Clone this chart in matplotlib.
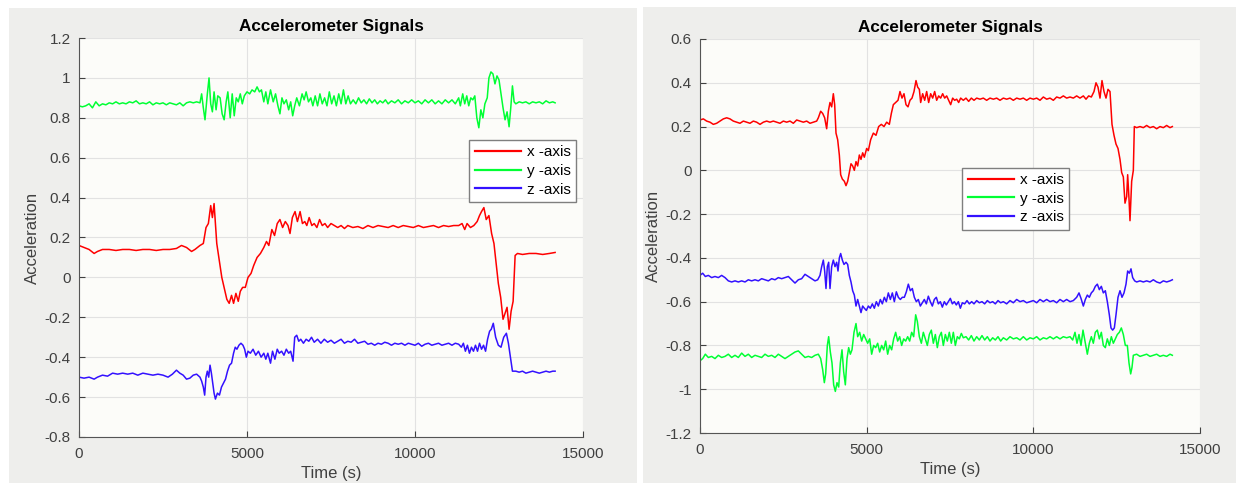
import matplotlib
matplotlib.use("Agg")
import matplotlib.pyplot as plt
from matplotlib.patches import Rectangle

plt.rcParams["font.family"] = ["Liberation Sans", "DejaVu Sans"]

# ------------------------------------------------------------
#  data: (time s, acceleration)
# ------------------------------------------------------------
left_x = [(0, 0.16), (150, 0.15), (300, 0.14), (450, 0.12), (550, 0.13), (700, 0.14), (900, 0.14),
          (1100, 0.135), (1300, 0.14), (1500, 0.14), (1700, 0.135), (1900, 0.14), (2100, 0.14),
          (2300, 0.135), (2500, 0.14), (2700, 0.14), (2900, 0.145), (3050, 0.16), (3200, 0.15),
          (3350, 0.13), (3450, 0.14), (3600, 0.16), (3700, 0.17), (3780, 0.25), (3850, 0.27),
          (3920, 0.36), (3970, 0.30), (4020, 0.37), (4100, 0.17), (4180, 0.08), (4250, 0.0),
          (4330, -0.06), (4400, -0.11), (4470, -0.13), (4540, -0.09), (4600, -0.13), (4670, -0.08),
          (4740, -0.12), (4800, -0.07), (4870, -0.05), (4950, -0.05), (5030, 0.0), (5120, 0.02),
          (5200, 0.06), (5300, 0.10), (5400, 0.12), (5500, 0.15), (5580, 0.18), (5650, 0.16),
          (5740, 0.24), (5820, 0.21), (5900, 0.27), (5980, 0.29), (6060, 0.25), (6140, 0.28),
          (6220, 0.26), (6280, 0.22), (6350, 0.30), (6430, 0.33), (6500, 0.28), (6580, 0.33),
          (6650, 0.27), (6720, 0.28), (6780, 0.26), (6850, 0.30), (6930, 0.26), (7000, 0.27),
          (7080, 0.25), (7160, 0.29), (7240, 0.26), (7320, 0.27), (7400, 0.25), (7500, 0.27),
          (7600, 0.26), (7700, 0.25), (7800, 0.26), (7900, 0.245), (8000, 0.26), (8150, 0.25),
          (8300, 0.255), (8450, 0.245), (8600, 0.26), (8750, 0.25), (8900, 0.26), (9050, 0.255),
          (9200, 0.25), (9350, 0.26), (9500, 0.25), (9650, 0.26), (9800, 0.255), (9950, 0.25),
          (10100, 0.26), (10250, 0.25), (10400, 0.255), (10550, 0.26), (10700, 0.25), (10850, 0.26),
          (11000, 0.255), (11150, 0.26), (11300, 0.26), (11400, 0.27), (11480, 0.24), (11550, 0.27),
          (11650, 0.25), (11750, 0.26), (11850, 0.28), (11920, 0.31), (11980, 0.33), (12050, 0.35),
          (12120, 0.29), (12200, 0.31), (12280, 0.22), (12350, 0.17), (12420, 0.06), (12480, -0.03),
          (12550, -0.10), (12620, -0.21), (12680, -0.18), (12740, -0.15), (12800, -0.26),
          (12860, -0.17), (12920, -0.12), (12980, 0.11), (13050, 0.12), (13200, 0.115),
          (13400, 0.12), (13600, 0.12), (13800, 0.115), (14000, 0.12), (14170, 0.125)]

left_y = [(0, 0.86), (100, 0.855), (200, 0.86), (300, 0.87), (400, 0.85), (500, 0.88), (600, 0.86),
          (700, 0.87), (800, 0.865), (900, 0.875), (1000, 0.87), (1100, 0.88), (1200, 0.87),
          (1300, 0.875), (1400, 0.87), (1500, 0.88), (1600, 0.875), (1700, 0.885), (1800, 0.87),
          (1900, 0.875), (2000, 0.87), (2100, 0.88), (2200, 0.865), (2300, 0.875), (2400, 0.87),
          (2500, 0.875), (2600, 0.865), (2700, 0.875), (2800, 0.87), (2900, 0.865), (3000, 0.875),
          (3100, 0.86), (3200, 0.875), (3300, 0.88), (3400, 0.875), (3500, 0.88), (3600, 0.875),
          (3650, 0.92), (3700, 0.85), (3750, 0.79), (3820, 0.92), (3870, 1.0), (3920, 0.87),
          (3970, 0.83), (4020, 0.93), (4080, 0.84), (4130, 0.91), (4200, 0.90), (4260, 0.82),
          (4320, 0.79), (4380, 0.88), (4430, 0.93), (4500, 0.80), (4560, 0.92), (4620, 0.81),
          (4680, 0.90), (4740, 0.88), (4800, 0.92), (4860, 0.87), (4920, 0.91), (5000, 0.93),
          (5080, 0.92), (5150, 0.94), (5230, 0.93), (5300, 0.955), (5370, 0.93), (5430, 0.94),
          (5500, 0.88), (5560, 0.93), (5620, 0.87), (5700, 0.94), (5780, 0.88), (5850, 0.92),
          (5920, 0.86), (5980, 0.82), (6040, 0.90), (6100, 0.87), (6170, 0.89), (6240, 0.84),
          (6300, 0.88), (6360, 0.81), (6420, 0.86), (6480, 0.90), (6560, 0.86), (6640, 0.92),
          (6700, 0.89), (6760, 0.93), (6830, 0.88), (6900, 0.90), (6960, 0.86), (7030, 0.91),
          (7100, 0.86), (7170, 0.92), (7240, 0.87), (7310, 0.90), (7380, 0.86), (7450, 0.93),
          (7520, 0.87), (7590, 0.91), (7660, 0.86), (7730, 0.92), (7800, 0.87), (7870, 0.94),
          (7940, 0.87), (8010, 0.91), (8080, 0.87), (8160, 0.89), (8240, 0.87), (8320, 0.90),
          (8400, 0.875), (8480, 0.89), (8560, 0.87), (8640, 0.895), (8720, 0.875), (8800, 0.89),
          (8880, 0.87), (8960, 0.885), (9040, 0.875), (9120, 0.89), (9200, 0.87), (9300, 0.885),
          (9400, 0.875), (9500, 0.89), (9600, 0.87), (9700, 0.885), (9800, 0.875), (9900, 0.89),
          (10000, 0.875), (10100, 0.885), (10200, 0.87), (10300, 0.89), (10400, 0.875),
          (10500, 0.89), (10600, 0.87), (10700, 0.885), (10800, 0.87), (10900, 0.89),
          (11000, 0.875), (11100, 0.89), (11200, 0.87), (11300, 0.90), (11350, 0.86),
          (11420, 0.92), (11480, 0.87), (11540, 0.91), (11600, 0.86), (11660, 0.90),
          (11720, 0.89), (11780, 0.91), (11840, 0.80), (11900, 0.75), (11960, 0.84),
          (12020, 0.80), (12080, 0.87), (12150, 0.90), (12200, 1.00), (12260, 1.03),
          (12320, 1.02), (12380, 0.97), (12440, 1.01), (12500, 0.99), (12560, 0.92),
          (12620, 0.85), (12680, 0.79), (12740, 0.83), (12800, 0.755), (12850, 0.85),
          (12900, 0.96), (12950, 0.88), (13000, 0.87), (13100, 0.88), (13200, 0.875),
          (13300, 0.88), (13400, 0.87), (13500, 0.88), (13600, 0.875), (13700, 0.88),
          (13800, 0.87), (13900, 0.885), (14000, 0.875), (14100, 0.88), (14170, 0.875)]

left_z = [(0, -0.50), (150, -0.505), (300, -0.50), (450, -0.51), (550, -0.50), (700, -0.49),
          (850, -0.495), (1000, -0.48), (1150, -0.485), (1300, -0.48), (1450, -0.485), (1600, -0.48),
          (1750, -0.49), (1900, -0.48), (2050, -0.485), (2200, -0.49), (2350, -0.485), (2500, -0.49),
          (2650, -0.50), (2780, -0.485), (2900, -0.465), (3000, -0.48), (3100, -0.49), (3200, -0.51),
          (3300, -0.505), (3400, -0.49), (3500, -0.485), (3600, -0.50), (3650, -0.52), (3700, -0.55),
          (3740, -0.59), (3780, -0.50), (3820, -0.47), (3860, -0.50), (3900, -0.44), (3940, -0.48),
          (3980, -0.53), (4020, -0.58), (4060, -0.61), (4120, -0.58), (4180, -0.59), (4240, -0.55),
          (4300, -0.53), (4360, -0.51), (4420, -0.47), (4480, -0.44), (4540, -0.43), (4600, -0.38),
          (4650, -0.35), (4700, -0.36), (4760, -0.34), (4820, -0.33), (4880, -0.34), (4930, -0.36),
          (4980, -0.40), (5030, -0.37), (5100, -0.38), (5180, -0.36), (5260, -0.39), (5340, -0.37),
          (5420, -0.40), (5500, -0.38), (5560, -0.41), (5620, -0.38), (5700, -0.43), (5760, -0.37),
          (5830, -0.41), (5900, -0.36), (5960, -0.38), (6030, -0.37), (6100, -0.39), (6170, -0.36),
          (6240, -0.38), (6300, -0.37), (6370, -0.42), (6420, -0.30), (6480, -0.29), (6540, -0.32),
          (6600, -0.31), (6680, -0.33), (6760, -0.31), (6840, -0.32), (6920, -0.30), (7000, -0.325),
          (7100, -0.31), (7200, -0.33), (7300, -0.31), (7400, -0.325), (7500, -0.315), (7600, -0.33),
          (7700, -0.32), (7800, -0.31), (7900, -0.33), (8000, -0.32), (8100, -0.325), (8200, -0.31),
          (8300, -0.33), (8400, -0.325), (8500, -0.32), (8600, -0.335), (8700, -0.33), (8800, -0.34),
          (8900, -0.33), (9000, -0.335), (9100, -0.325), (9200, -0.33), (9300, -0.34), (9400, -0.33),
          (9500, -0.335), (9600, -0.33), (9700, -0.34), (9800, -0.33), (9900, -0.335), (10000, -0.34),
          (10100, -0.33), (10200, -0.345), (10300, -0.335), (10400, -0.33), (10500, -0.34),
          (10600, -0.335), (10700, -0.33), (10800, -0.34), (10900, -0.335), (11000, -0.33),
          (11100, -0.34), (11200, -0.33), (11300, -0.335), (11380, -0.35), (11440, -0.33),
          (11500, -0.37), (11560, -0.34), (11620, -0.38), (11680, -0.35), (11740, -0.37),
          (11800, -0.34), (11860, -0.37), (11920, -0.33), (11980, -0.36), (12040, -0.34),
          (12100, -0.37), (12160, -0.31), (12220, -0.27), (12270, -0.26), (12330, -0.23),
          (12400, -0.30), (12480, -0.34), (12560, -0.35), (12640, -0.30), (12720, -0.28),
          (12780, -0.33), (12840, -0.40), (12900, -0.47), (13000, -0.47), (13100, -0.475),
          (13200, -0.47), (13300, -0.48), (13400, -0.475), (13500, -0.47), (13600, -0.475),
          (13700, -0.48), (13800, -0.475), (13900, -0.47), (14000, -0.475), (14100, -0.47),
          (14170, -0.47)]

right_x = [(0, 0.23), (100, 0.235), (200, 0.225), (300, 0.22), (400, 0.21), (500, 0.215), (600, 0.225),
           (700, 0.235), (800, 0.24), (900, 0.235), (1000, 0.225), (1100, 0.22), (1200, 0.215),
           (1300, 0.225), (1400, 0.22), (1500, 0.215), (1600, 0.225), (1700, 0.22), (1800, 0.21),
           (1900, 0.22), (2000, 0.225), (2100, 0.22), (2200, 0.225), (2300, 0.22), (2400, 0.215),
           (2500, 0.225), (2600, 0.22), (2700, 0.225), (2800, 0.215), (2900, 0.23), (3000, 0.225),
           (3100, 0.22), (3200, 0.225), (3300, 0.215), (3400, 0.22), (3500, 0.225), (3550, 0.24),
           (3620, 0.27), (3680, 0.26), (3740, 0.24), (3800, 0.19), (3850, 0.27), (3900, 0.31),
           (3950, 0.29), (4000, 0.35), (4040, 0.30), (4080, 0.17), (4130, 0.14), (4180, 0.07),
           (4220, -0.02), (4270, -0.04), (4330, -0.05), (4380, -0.07), (4430, -0.05), (4480, -0.01),
           (4530, 0.03), (4580, 0.02), (4630, 0.0), (4680, 0.04), (4730, 0.02), (4780, 0.07),
           (4830, 0.05), (4880, 0.08), (4930, 0.06), (5000, 0.10), (5050, 0.09), (5120, 0.14),
           (5200, 0.17), (5280, 0.16), (5360, 0.20), (5440, 0.21), (5520, 0.20), (5600, 0.22),
           (5680, 0.21), (5740, 0.26), (5800, 0.30), (5870, 0.31), (5940, 0.32), (6000, 0.36),
           (6060, 0.33), (6120, 0.35), (6180, 0.30), (6240, 0.29), (6300, 0.32), (6360, 0.33),
           (6420, 0.36), (6480, 0.41), (6530, 0.38), (6580, 0.37), (6620, 0.31), (6680, 0.35),
           (6740, 0.32), (6800, 0.36), (6860, 0.31), (6920, 0.35), (6980, 0.33), (7040, 0.36),
           (7100, 0.32), (7160, 0.34), (7220, 0.33), (7280, 0.35), (7340, 0.33), (7400, 0.34),
           (7460, 0.32), (7520, 0.30), (7580, 0.33), (7640, 0.32), (7700, 0.325), (7760, 0.31),
           (7820, 0.33), (7900, 0.32), (7980, 0.33), (8060, 0.315), (8140, 0.33), (8220, 0.32),
           (8300, 0.33), (8400, 0.325), (8500, 0.33), (8600, 0.32), (8700, 0.33), (8800, 0.325),
           (8900, 0.33), (9000, 0.32), (9100, 0.33), (9200, 0.325), (9300, 0.33), (9400, 0.32),
           (9500, 0.33), (9600, 0.325), (9700, 0.33), (9800, 0.32), (9900, 0.33), (10000, 0.325),
           (10100, 0.33), (10200, 0.32), (10300, 0.335), (10400, 0.325), (10500, 0.33),
           (10600, 0.32), (10700, 0.335), (10800, 0.33), (10900, 0.34), (11000, 0.33),
           (11100, 0.335), (11200, 0.33), (11300, 0.34), (11400, 0.33), (11500, 0.34),
           (11580, 0.325), (11660, 0.34), (11740, 0.335), (11820, 0.36), (11880, 0.40),
           (11940, 0.38), (12000, 0.33), (12060, 0.41), (12120, 0.36), (12180, 0.33),
           (12240, 0.37), (12300, 0.36), (12360, 0.21), (12420, 0.16), (12480, 0.12),
           (12540, 0.10), (12600, 0.05), (12650, -0.01), (12700, -0.03), (12750, -0.15),
           (12800, -0.12), (12830, -0.02), (12870, -0.13), (12900, -0.23), (12950, -0.05),
           (13000, 0.0), (13030, 0.20), (13100, 0.195), (13200, 0.20), (13300, 0.195),
           (13400, 0.205), (13500, 0.195), (13600, 0.20), (13700, 0.19), (13800, 0.20),
           (13900, 0.195), (14000, 0.205), (14100, 0.195), (14170, 0.20)]

right_y = [(0, -0.87), (80, -0.86), (160, -0.84), (250, -0.855), (350, -0.85), (450, -0.86),
           (550, -0.845), (650, -0.855), (750, -0.85), (850, -0.84), (950, -0.855), (1050, -0.845),
           (1150, -0.855), (1250, -0.835), (1350, -0.85), (1450, -0.84), (1550, -0.855),
           (1650, -0.845), (1750, -0.85), (1850, -0.855), (1950, -0.84), (2050, -0.85),
           (2150, -0.845), (2250, -0.855), (2350, -0.84), (2450, -0.85), (2550, -0.86),
           (2650, -0.85), (2750, -0.84), (2850, -0.83), (2950, -0.825), (3050, -0.84),
           (3150, -0.855), (3250, -0.85), (3350, -0.855), (3450, -0.845), (3550, -0.84),
           (3620, -0.86), (3680, -0.91), (3730, -0.97), (3770, -0.93), (3820, -0.80),
           (3860, -0.76), (3910, -0.83), (3960, -0.88), (4010, -0.98), (4060, -1.01),
           (4110, -0.97), (4160, -0.99), (4210, -0.88), (4260, -0.82), (4310, -0.92),
           (4360, -0.98), (4410, -0.86), (4460, -0.81), (4510, -0.84), (4560, -0.82),
           (4620, -0.74), (4680, -0.70), (4730, -0.76), (4790, -0.74), (4850, -0.78),
           (4910, -0.75), (4970, -0.77), (5030, -0.79), (5090, -0.77), (5150, -0.84),
           (5210, -0.80), (5270, -0.81), (5330, -0.79), (5390, -0.83), (5450, -0.80),
           (5510, -0.82), (5570, -0.78), (5630, -0.84), (5690, -0.80), (5750, -0.82),
           (5810, -0.77), (5870, -0.74), (5930, -0.78), (5990, -0.76), (6050, -0.80),
           (6110, -0.77), (6170, -0.78), (6230, -0.76), (6290, -0.78), (6350, -0.74),
           (6410, -0.76), (6470, -0.66), (6520, -0.69), (6580, -0.76), (6640, -0.79),
           (6700, -0.74), (6760, -0.77), (6820, -0.80), (6880, -0.75), (6940, -0.73),
           (7000, -0.79), (7060, -0.75), (7120, -0.81), (7180, -0.76), (7240, -0.74),
           (7300, -0.80), (7360, -0.75), (7420, -0.78), (7480, -0.74), (7540, -0.79),
           (7600, -0.74), (7660, -0.80), (7720, -0.76), (7780, -0.77), (7840, -0.745),
           (7900, -0.765), (7980, -0.76), (8060, -0.775), (8140, -0.755), (8220, -0.78),
           (8300, -0.76), (8380, -0.775), (8460, -0.755), (8540, -0.775), (8620, -0.76),
           (8700, -0.78), (8780, -0.765), (8860, -0.775), (8940, -0.76), (9020, -0.78),
           (9100, -0.765), (9200, -0.775), (9300, -0.76), (9400, -0.77), (9500, -0.765),
           (9600, -0.775), (9700, -0.76), (9800, -0.775), (9900, -0.765), (10000, -0.77),
           (10100, -0.76), (10200, -0.775), (10300, -0.765), (10400, -0.77), (10500, -0.76),
           (10600, -0.77), (10700, -0.76), (10800, -0.77), (10900, -0.76), (11000, -0.765),
           (11100, -0.76), (11180, -0.775), (11250, -0.74), (11310, -0.79), (11370, -0.75),
           (11430, -0.80), (11490, -0.73), (11550, -0.78), (11620, -0.84), (11680, -0.79),
           (11740, -0.76), (11800, -0.79), (11860, -0.74), (11920, -0.73), (11980, -0.77),
           (12040, -0.74), (12100, -0.80), (12160, -0.81), (12220, -0.77), (12280, -0.80),
           (12340, -0.76), (12400, -0.79), (12460, -0.77), (12520, -0.75), (12580, -0.74),
           (12640, -0.72), (12700, -0.75), (12760, -0.80), (12820, -0.80), (12870, -0.88),
           (12920, -0.93), (12960, -0.90), (13000, -0.845), (13100, -0.84), (13200, -0.85),
           (13300, -0.845), (13400, -0.84), (13500, -0.85), (13600, -0.845), (13700, -0.84),
           (13800, -0.85), (13900, -0.845), (14000, -0.85), (14100, -0.84), (14170, -0.845)]

right_z = [(0, -0.48), (80, -0.47), (160, -0.485), (250, -0.48), (350, -0.49), (450, -0.485),
           (550, -0.49), (650, -0.48), (750, -0.49), (850, -0.505), (950, -0.51), (1050, -0.505),
           (1150, -0.51), (1250, -0.505), (1350, -0.51), (1450, -0.50), (1550, -0.505),
           (1650, -0.50), (1750, -0.505), (1850, -0.495), (1950, -0.50), (2050, -0.505),
           (2150, -0.495), (2250, -0.50), (2350, -0.49), (2450, -0.495), (2550, -0.49),
           (2650, -0.485), (2750, -0.50), (2850, -0.515), (2950, -0.50), (3050, -0.495),
           (3150, -0.475), (3250, -0.485), (3350, -0.495), (3450, -0.505), (3530, -0.50),
           (3600, -0.48), (3650, -0.44), (3700, -0.41), (3740, -0.46), (3780, -0.54),
           (3820, -0.44), (3860, -0.42), (3900, -0.54), (3950, -0.44), (4000, -0.41),
           (4050, -0.44), (4100, -0.42), (4140, -0.46), (4180, -0.40), (4220, -0.38),
           (4270, -0.41), (4320, -0.43), (4380, -0.42), (4430, -0.43), (4480, -0.48),
           (4530, -0.51), (4580, -0.55), (4630, -0.57), (4680, -0.62), (4730, -0.59),
           (4780, -0.62), (4830, -0.65), (4880, -0.62), (4930, -0.63), (4990, -0.64),
           (5050, -0.62), (5110, -0.63), (5170, -0.61), (5230, -0.63), (5290, -0.60),
           (5350, -0.62), (5410, -0.59), (5470, -0.61), (5530, -0.58), (5590, -0.60),
           (5650, -0.56), (5710, -0.59), (5770, -0.56), (5830, -0.60), (5890, -0.555),
           (5950, -0.58), (6010, -0.59), (6070, -0.58), (6130, -0.58), (6190, -0.555),
           (6250, -0.52), (6310, -0.55), (6370, -0.54), (6430, -0.58), (6490, -0.60),
           (6550, -0.59), (6610, -0.62), (6670, -0.605), (6730, -0.59), (6790, -0.61),
           (6850, -0.575), (6910, -0.60), (6970, -0.62), (7030, -0.59), (7090, -0.58),
           (7150, -0.61), (7210, -0.60), (7270, -0.625), (7330, -0.60), (7390, -0.615),
           (7450, -0.60), (7510, -0.585), (7570, -0.61), (7630, -0.60), (7690, -0.615),
           (7750, -0.60), (7810, -0.63), (7870, -0.605), (7940, -0.61), (8010, -0.595),
           (8080, -0.61), (8150, -0.60), (8220, -0.61), (8300, -0.595), (8380, -0.605),
           (8460, -0.60), (8540, -0.61), (8620, -0.595), (8700, -0.605), (8780, -0.60),
           (8860, -0.61), (8940, -0.595), (9020, -0.605), (9100, -0.60), (9200, -0.61),
           (9300, -0.595), (9400, -0.605), (9500, -0.59), (9600, -0.60), (9700, -0.595),
           (9800, -0.605), (9900, -0.60), (10000, -0.595), (10100, -0.605), (10200, -0.59),
           (10300, -0.60), (10400, -0.59), (10500, -0.60), (10600, -0.595), (10700, -0.605),
           (10800, -0.59), (10900, -0.60), (11000, -0.59), (11100, -0.60), (11200, -0.595),
           (11300, -0.58), (11370, -0.56), (11430, -0.585), (11500, -0.62), (11560, -0.59),
           (11620, -0.57), (11680, -0.58), (11740, -0.56), (11800, -0.55), (11860, -0.53),
           (11920, -0.52), (11980, -0.545), (12040, -0.53), (12100, -0.56), (12160, -0.55),
           (12220, -0.60), (12280, -0.66), (12330, -0.72), (12380, -0.73), (12430, -0.72),
           (12480, -0.66), (12540, -0.58), (12600, -0.55), (12660, -0.58), (12720, -0.56),
           (12780, -0.52), (12830, -0.46), (12880, -0.47), (12930, -0.45), (12980, -0.49),
           (13040, -0.505), (13100, -0.51), (13200, -0.505), (13300, -0.51), (13400, -0.505),
           (13500, -0.51), (13600, -0.50), (13700, -0.51), (13800, -0.515), (13900, -0.505),
           (14000, -0.51), (14100, -0.505), (14170, -0.50)]

series_names = ["x -axis", "y -axis", "z -axis"]
series_colors = ["#FF0000", "#00FF33", "#3311FF"]
x_ticks = [0, 5000, 10000, 15000]
left_yticks = [-0.8, -0.6, -0.4, -0.2, 0, 0.2, 0.4, 0.6, 0.8, 1, 1.2]
right_yticks = [-1.2, -1, -0.8, -0.6, -0.4, -0.2, 0, 0.2, 0.4, 0.6]

PANEL = "#EEEEEC"
FACE = "#FCFCF9"
TXT = "#404040"


def fmt(v):
    s = f"{v:g}"
    return "0" if s == "-0" else s


def draw_panel(ax, data, yticks, legend_anchor):
    for (pts, name, col) in zip(data, series_names, series_colors):
        t = [p[0] for p in pts]
        v = [p[1] for p in pts]
        ax.plot(t, v, color=col, linewidth=1.1, label=name)

    ax.set_facecolor(FACE)
    ax.set_xlim(0, 15000)
    ax.set_ylim(yticks[0], yticks[-1])
    ax.set_xticks(x_ticks)
    ax.set_xticklabels([fmt(t) for t in x_ticks])
    ax.set_yticks(yticks)
    ax.set_yticklabels([fmt(t) for t in yticks])
    ax.tick_params(direction="in", length=4, width=0.8, colors=TXT, labelsize=11, pad=6)
    ax.tick_params(axis="x", pad=7)
    ax.grid(True, color="#E2E2E2", linewidth=0.8)
    ax.set_axisbelow(True)
    ax.spines["top"].set_visible(False)
    ax.spines["right"].set_visible(False)
    for s in ["left", "bottom"]:
        ax.spines[s].set_color("#555555")
        ax.spines[s].set_linewidth(0.8)

    ax.set_title("Accelerometer Signals", fontsize=12.3, fontweight="bold", pad=5)
    ax.set_xlabel("Time (s)", fontsize=12, color=TXT, labelpad=4)
    ax.set_ylabel("Acceleration", fontsize=12, color=TXT, labelpad=3)

    leg = ax.legend(loc="upper right", bbox_to_anchor=legend_anchor, fontsize=11,
                    handlelength=3.0, handletextpad=0.4, borderpad=0.35, borderaxespad=0,
                    labelspacing=0.3, fancybox=False, framealpha=1)
    leg.get_frame().set_edgecolor("#7F7F7F")
    leg.get_frame().set_linewidth(1.0)
    for line in leg.get_lines():
        line.set_linewidth(1.6)


fig = plt.figure(figsize=(12.36, 4.83), dpi=100)
fig.patch.set_facecolor("white")

W, H = 1236, 483
# grey figure panels behind each plot
fig.patches.append(Rectangle((9 / W, 0), (637 - 9) / W, (H - 8) / H,
                             transform=fig.transFigure, facecolor=PANEL, edgecolor="none", zorder=-1))
fig.patches.append(Rectangle((643 / W, 0), (W - 643) / W, (H - 7) / H,
                             transform=fig.transFigure, facecolor=PANEL, edgecolor="none", zorder=-1))

ax1 = fig.add_axes([79 / W, 1 - 437 / H, (583 - 79) / W, (437 - 38) / H])
ax2 = fig.add_axes([700 / W, 1 - 433 / H, (1200 - 700) / W, (433 - 39) / H])

draw_panel(ax1, [left_x, left_y, left_z], left_yticks, (0.986, 0.744))
draw_panel(ax2, [right_x, right_y, right_z], right_yticks, (0.738, 0.673))

fig.savefig("out.png", dpi=100, facecolor=fig.get_facecolor())
